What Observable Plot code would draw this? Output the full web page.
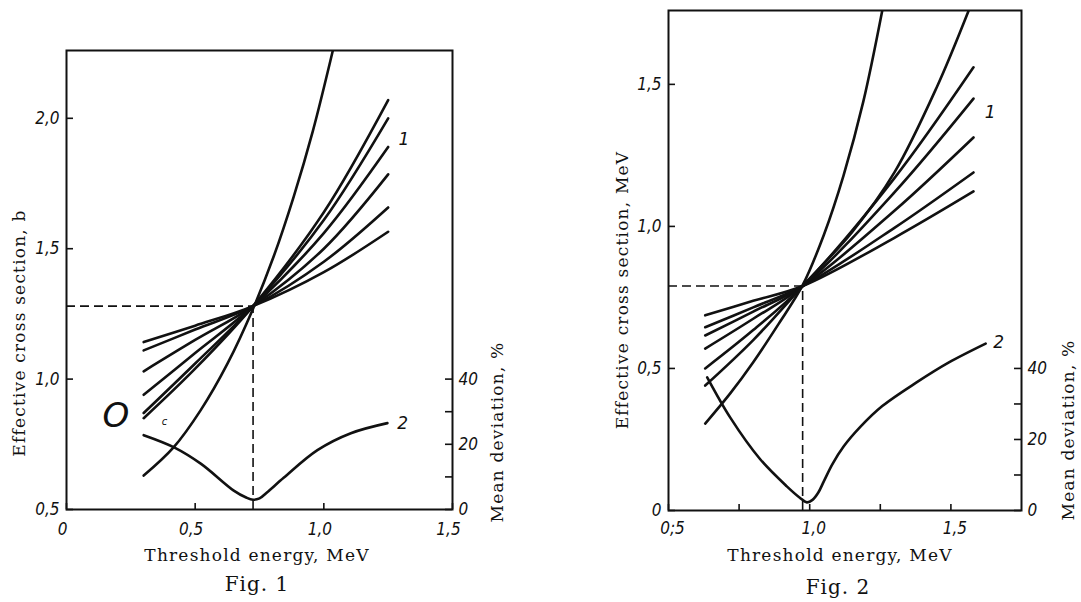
<!DOCTYPE html>
<html><head><meta charset="utf-8">
<script src="https://cdn.jsdelivr.net/npm/d3@7"></script>
<script src="https://cdn.jsdelivr.net/npm/@observablehq/plot@0.6"></script>
<style>
body{margin:0;background:#fff;}
#wrap{position:relative;width:1081px;height:602px;overflow:hidden;background:#fff;}
.panel{position:absolute;top:0;}
.lbl{position:absolute;font-family:"DejaVu Serif",serif;font-size:17px;letter-spacing:1.2px;color:#111;white-space:nowrap;transform:translate(-50%,-50%);}
.rot{transform:translate(-50%,-50%) rotate(-90deg);}
.fig{font-size:20px;letter-spacing:1px;}
</style></head><body><div id="wrap"></div>
<script>
// ---------- Fig. 1 data ----------
const fig1XTicks = [0, 0.5, 1.0, 1.5];
const fig1XLabels = ["0", "0,5", "1,0", "1,5"];
const fig1YTicks = [0.5, 1.0, 1.5, 2.0];
const fig1YLabels = ["0,5", "1,0", "1,5", "2,0"];
const fig1DevTicks = [0, 10, 20, 30, 40];
const fig1DevLabels = [0, 20, 40];

const fig1FamilyX = [0.3, 0.5, 0.725, 1.0, 1.25];
const fig1Family = [
  [0.85, 1.04, 1.28, 1.64, 2.07],
  [0.87, 1.06, 1.28, 1.61, 2.00],
  [0.94, 1.10, 1.28, 1.56, 1.89],
  [1.03, 1.15, 1.28, 1.50, 1.785],
  [1.11, 1.19, 1.28, 1.45, 1.658],
  [1.142, 1.205, 1.28, 1.41, 1.565]
];
const fig1SteepX = [0.3, 0.416, 0.521, 0.626, 0.725, 0.805, 0.883, 0.957, 1.035];
const fig1SteepY = [0.63, 0.738, 0.88, 1.06, 1.27, 1.47, 1.70, 1.95, 2.26];
const fig1DevX = [0.3, 0.42, 0.523, 0.65, 0.7, 0.725, 0.75, 0.78, 0.845, 0.975, 1.105, 1.247];
const fig1DevY = [22.8, 19, 14, 5.8, 3.6, 3.0, 3.4, 5.3, 9.8, 18.2, 23.4, 26.5];
const fig1Cross = {x: 0.725, y: 1.28};

// ---------- Fig. 2 data ----------
const fig2XTicks = [0.5, 1.0, 1.5];
const fig2XLabels = ["0;5", "1,0", "1,5"];
const fig2XMinor = [0.75, 1.25];
const fig2YTicks = [0, 0.5, 1.0, 1.5];
const fig2YLabels = ["0", "0,5", "1,0", "1,5"];
const fig2DevTicks = [0, 10, 20, 30, 40];
const fig2DevLabels = [0, 20, 40];

const fig2FamilyX = [0.63, 0.8, 0.975, 1.3, 1.58];
const fig2Family = [
  [0.50, 0.635, 0.79, 1.17, 1.56],
  [0.57, 0.675, 0.79, 1.12, 1.45],
  [0.616, 0.70, 0.79, 1.055, 1.313],
  [0.645, 0.715, 0.79, 0.995, 1.19],
  [0.687, 0.738, 0.79, 0.96, 1.123]
];
const fig2SteepAX = [0.63, 0.8, 0.975, 1.15, 1.3, 1.45, 1.563];
const fig2SteepAY = [0.44, 0.60, 0.79, 0.98, 1.19, 1.49, 1.76];
const fig2SteepBX = [0.63, 0.72, 0.8, 0.89, 0.975, 1.05, 1.12, 1.19, 1.257];
const fig2SteepBY = [0.306, 0.414, 0.522, 0.657, 0.793, 0.97, 1.18, 1.44, 1.76];
const fig2DevX = [0.637, 0.72, 0.824, 0.919, 0.965, 0.99, 1.01, 1.03, 1.05, 1.08, 1.12, 1.18, 1.257, 1.377, 1.493, 1.623];
const fig2DevY = [37.5, 26, 14.5, 6.8, 3.6, 2.3, 3.0, 5.0, 8.2, 13.0, 18.0, 23.6, 29.4, 36, 41.7, 47];
const fig2Cross = {x: 0.975, y: 0.79};

// ---------- helpers ----------
const INK = "#111";
const zip = (xs, ys) => xs.map((x, i) => ({x, y: ys[i]}));
const family = (xs, rows) => rows.flatMap((r, k) => xs.map((x, i) => ({x, y: r[i], k})));

function panel(o) {
  const pw = o.width - o.ml - o.mr, ph = o.height - o.mt - o.mb;
  const devPos = d => o.devBase + d / 80;
  const xl = new Map(o.xTicks.map((t, i) => [t, o.xLabels[i]]));
  const yl = new Map(o.yTicks.map((t, i) => [t, o.yLabels[i]]));
  const tickTxt = {fontSize: 17, fontStyle: "italic", fill: INK, fontFamily: "DejaVu Sans Condensed, DejaVu Sans, sans-serif"};
  return Plot.plot({
    width: o.width, height: o.height,
    marginLeft: o.ml, marginRight: o.mr, marginTop: o.mt, marginBottom: o.mb,
    x: {domain: o.xDomain}, y: {domain: o.yDomain},
    style: {background: "transparent", fontFamily: "DejaVu Sans, sans-serif", color: INK},
    marks: [
      // dashed guides
      Plot.ruleY([o.cross], {y: "y", x1: o.xDomain[0], x2: "x", stroke: INK, strokeWidth: 1.6, strokeDasharray: "9,5"}),
      Plot.ruleX([o.cross], {x: "x", y1: o.yDomain[0], y2: "y", stroke: INK, strokeWidth: 1.6, strokeDasharray: "9,5"}),
      // curves
      Plot.line(family(o.famX, o.fam), {x: "x", y: "y", z: "k", curve: "catmull-rom", stroke: INK, strokeWidth: 2.6, clip: true}),
      ...o.steep.map(s => Plot.line(s, {x: "x", y: "y", curve: "catmull-rom", stroke: INK, strokeWidth: 2.6, clip: true})),
      Plot.line(o.dev, {x: "x", y: d => devPos(d.y), curve: "catmull-rom", stroke: INK, strokeWidth: 2.6, clip: true}),
      // frame
      Plot.frame({stroke: INK, strokeWidth: 2}),
      // inward ticks
      Plot.tickY(o.yTicks, {y: d => d, insetRight: pw - 7, stroke: INK, strokeWidth: 1.6}),
      Plot.tickX(o.xTicks.concat(o.xMinor || []), {x: d => d, insetTop: ph - 6, stroke: INK, strokeWidth: 1.6}),
      Plot.tickY(o.devTicks.map(devPos), {y: d => d, insetLeft: pw - 7, stroke: INK, strokeWidth: 1.6}),
      // axis labels
      Plot.axisX(o.xTicks, {tickSize: 0, tickPadding: o.xPad, dx: o.xdx, label: null, tickFormat: d => xl.get(d), ...tickTxt}),
      Plot.axisY(o.yTicks, {anchor: "left", tickSize: 0, tickPadding: 7, label: null, tickFormat: d => yl.get(d), ...tickTxt}),
      Plot.axisY(o.devLabels.map(devPos), {anchor: "right", tickSize: 0, tickPadding: 6, label: null, tickFormat: d => String(Math.round((d - o.devBase) * 80)), ...tickTxt}),
      // curve numbers and extra marks
      Plot.text(o.notes, {x: "x", y: "y", text: "t", fontSize: "s", fontStyle: "italic", fill: INK, textAnchor: "start"})
    ]
  });
}

const wrap = document.getElementById("wrap");

const p1 = panel({
  width: 540, height: 602, ml: 66, mr: 88, mt: 50, mb: 93, xPad: 13, xdx: -4,
  xDomain: [0, 1.5], yDomain: [0.5, 2.26],
  xTicks: fig1XTicks, xLabels: fig1XLabels, yTicks: fig1YTicks, yLabels: fig1YLabels,
  devTicks: fig1DevTicks, devLabels: fig1DevLabels, devBase: 0.5,
  famX: fig1FamilyX, fam: fig1Family,
  steep: [zip(fig1SteepX, fig1SteepY)],
  dev: zip(fig1DevX, fig1DevY), cross: fig1Cross,
  notes: [
    {x: 1.29, y: 1.92, t: "1", s: 17},
    {x: 1.285, y: 0.83, t: "2", s: 17},
    {x: 0.14, y: 0.86, t: "O", s: 34},
    {x: 0.37, y: 0.835, t: "c", s: 10}
  ]
});
p1.classList.add("panel"); p1.style.left = "0px";
wrap.appendChild(p1);

const p2 = panel({
  width: 521, height: 602, ml: 108, mr: 60, mt: 10, mb: 92, xPad: 11, xdx: 4,
  xDomain: [0.5, 1.75], yDomain: [0, 1.76],
  xTicks: fig2XTicks, xLabels: fig2XLabels, xMinor: fig2XMinor, yTicks: fig2YTicks, yLabels: fig2YLabels,
  devTicks: fig2DevTicks, devLabels: fig2DevLabels, devBase: 0,
  famX: fig2FamilyX, fam: fig2Family,
  steep: [zip(fig2SteepAX, fig2SteepAY), zip(fig2SteepBX, fig2SteepBY)],
  dev: zip(fig2DevX, fig2DevY), cross: fig2Cross,
  notes: [
    {x: 1.62, y: 1.40, t: "1", s: 17},
    {x: 1.65, y: 0.59, t: "2", s: 17}
  ]
});
p2.classList.add("panel"); p2.style.left = "560px";
wrap.appendChild(p2);

const labels = [
  {t: "Threshold energy, MeV", x: 257, y: 555, cls: ""},
  {t: "Fig. 1", x: 257, y: 584, cls: "fig"},
  {t: "Effective cross section, b", x: 19, y: 333, cls: "rot"},
  {t: "Mean deviation, %", x: 497, y: 432, cls: "rot"},
  {t: "Threshold energy, MeV", x: 840, y: 555, cls: ""},
  {t: "Fig. 2", x: 838, y: 587, cls: "fig"},
  {t: "Effective cross section, MeV", x: 622, y: 290, cls: "rot"},
  {t: "Mean deviation, %", x: 1068, y: 430, cls: "rot"}
];
for (const l of labels) {
  const d = document.createElement("div");
  d.className = "lbl " + l.cls;
  d.textContent = l.t;
  d.style.left = l.x + "px"; d.style.top = l.y + "px";
  wrap.appendChild(d);
}
</script>
</body></html>
